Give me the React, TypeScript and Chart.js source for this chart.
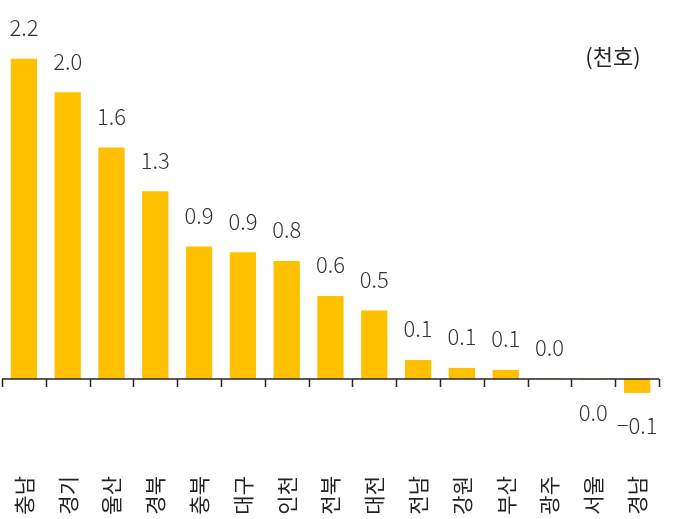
import React, { useEffect, useRef } from "react";
import { Chart, registerables } from "chart.js";

Chart.register(...registerables);

const categories = ["충남", "경기", "울산", "경북", "충북", "대구", "인천", "전북", "대전", "전남", "강원", "부산", "광주", "서울", "경남"];
const values = [2.2, 1.97, 1.59, 1.29, 0.91, 0.87, 0.81, 0.57, 0.47, 0.13, 0.076, 0.062, 0.004, -0.004, -0.096];
const unitLabel = "(천호)";

const BAR_COLOR = "#FFC000";
const FONT = "'Noto Sans CJK KR', 'Noto Sans', sans-serif";

function fmt(v: number): string {
  const s = v.toFixed(1);
  return s === "-0.0" ? "0.0" : s.replace("-", "−");
}

const overlayPlugin = {
  id: "overlay",
  afterDatasetsDraw(chart: any) {
    const { ctx, chartArea, scales } = chart;
    const y0 = scales.y.getPixelForValue(0);
    const n = categories.length;
    const step = (chartArea.right - chartArea.left) / n;
    ctx.save();
    ctx.strokeStyle = "#262626";
    ctx.lineWidth = 1.5;
    ctx.beginPath();
    ctx.moveTo(chartArea.left, y0);
    ctx.lineTo(chartArea.right, y0);
    for (let i = 0; i <= n; i++) {
      const x = Math.round(chartArea.left + i * step) + 0.5;
      ctx.moveTo(x, y0);
      ctx.lineTo(x, y0 + 8);
    }
    ctx.stroke();

    ctx.fillStyle = "#333333";
    ctx.font = `300 22px ${FONT}`;
    ctx.textAlign = "center";
    ctx.textBaseline = "middle";
    const meta = chart.getDatasetMeta(0);
    meta.data.forEach((bar: any, i: number) => {
      const v = values[i];
      const y = v >= 0 ? bar.y - 31 : bar.y + 33;
      ctx.fillText(fmt(v), bar.x, y);
    });

    ctx.fillStyle = "#262626";
    ctx.font = `22px ${FONT}`;
    ctx.fillText(unitLabel, 613, 57);
    ctx.restore();
  },
};

export default function App() {
  const ref = useRef<HTMLCanvasElement | null>(null);
  useEffect(() => {
    document.body.style.margin = "0";
    if (!ref.current) return;
    const chart = new Chart(ref.current, {
      type: "bar",
      data: {
        labels: categories,
        datasets: [
          {
            data: values,
            backgroundColor: BAR_COLOR,
            borderWidth: 0,
            barPercentage: 0.6,
            categoryPercentage: 1,
          },
        ],
      },
      options: {
        animation: false,
        responsive: false,
        maintainAspectRatio: false,
        layout: { padding: { left: 2, right: 28, top: 15, bottom: 0 } },
        plugins: {
          legend: { display: false },
          tooltip: { enabled: false },
          title: { display: false },
        },
        scales: {
          x: {
            offset: true,
            grid: { display: false },
            border: { display: false },
            afterFit: (scale: any) => {
              scale.height = 53;
            },
            ticks: {
              autoSkip: false,
              maxRotation: 90,
              minRotation: 90,
              padding: 2,
              color: "#222222",
              font: { family: FONT, size: 21 },
            },
          },
          y: {
            display: false,
            min: -0.598,
            max: 2.5,
          },
        },
      },
      plugins: [overlayPlugin],
    });
    return () => chart.destroy();
  }, []);
  return (
    <div style={{ width: 687, height: 519 }}>
      <canvas ref={ref} width={687} height={519} style={{ display: "block" }} />
    </div>
  );
}
